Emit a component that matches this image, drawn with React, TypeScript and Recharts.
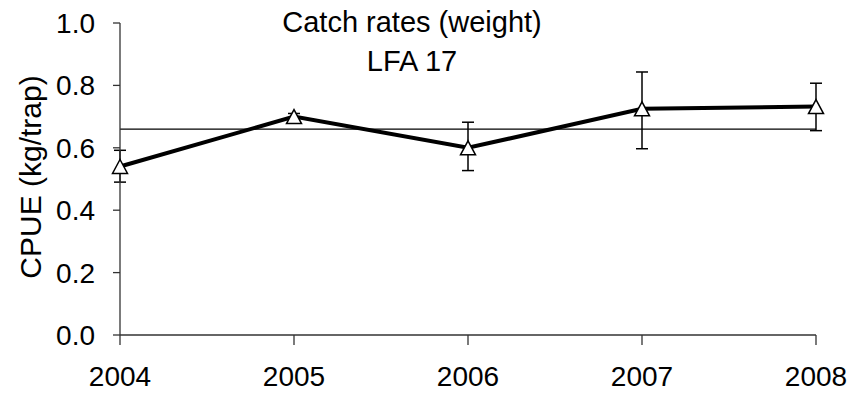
import { ErrorBar, Line, LineChart, ReferenceLine, XAxis, YAxis } from "recharts";

const years = [2004, 2005, 2006, 2007, 2008];
const cpue = [0.54, 0.7, 0.6, 0.725, 0.732];
const lower = [0.49, 0.69, 0.527, 0.597, 0.655];
const upper = [0.592, 0.71, 0.682, 0.843, 0.807];
const longTermMean = 0.66;
const yTicks = [0, 0.2, 0.4, 0.6, 0.8, 1.0];

const FONT = '"Liberation Sans", Arial, sans-serif';
const AXIS = "#333";

const data = years.map((year, i) => ({
  year,
  cpue: cpue[i],
  err: [cpue[i] - lower[i], upper[i] - cpue[i]],
}));

const Triangle = (props: any) => {
  const { cx, cy } = props;
  if (cx == null || cy == null) return null;
  return (
    <polygon
      points={`${cx},${cy - 7} ${cx - 7.5},${cy + 7} ${cx + 7.5},${cy + 7}`}
      fill="#fff"
      stroke="#000"
      strokeWidth={1.5}
    />
  );
};

export default function App() {
  return (
    <div style={{ position: "absolute", left: 0, top: 0, width: 853, height: 393, background: "#fff" }}>
      <LineChart
        width={853}
        height={393}
        data={data}
        margin={{ top: 23, right: 37, bottom: 0, left: 0 }}
      >
        <XAxis
          dataKey="year"
          type="number"
          domain={[2004, 2008]}
          ticks={years}
          height={58}
          stroke={AXIS}
          strokeWidth={1.3}
          tickLine={{ stroke: AXIS, strokeWidth: 1.3 }}
          tickSize={10}
          tickMargin={21}
          tick={{ fill: "#000", fontSize: 28, fontFamily: FONT }}
        />
        <YAxis
          domain={[0, 1]}
          ticks={yTicks}
          width={120}
          stroke={AXIS}
          strokeWidth={1.3}
          tickLine={{ stroke: AXIS, strokeWidth: 1.3 }}
          tickSize={7}
          tickMargin={18}
          tickFormatter={(v) => v.toFixed(1)}
          tick={{ fill: "#000", fontSize: 28, fontFamily: FONT }}
          label={{
            content: () => (
              <text
                x={30}
                y={177}
                transform="rotate(-90 30 177)"
                textAnchor="middle"
                dominantBaseline="central"
                fontSize={30}
                fontFamily={FONT}
                fill="#000"
              >
                CPUE (kg/trap)
              </text>
            ),
          }}
        />
        <ReferenceLine y={longTermMean} stroke="#000" strokeWidth={1.2} />
        <Line
          dataKey="cpue"
          stroke="#000"
          strokeWidth={4}
          dot={<Triangle />}
          activeDot={false}
          isAnimationActive={false}
        >
          <ErrorBar dataKey="err" direction="y" width={6} stroke="#000" strokeWidth={1.5} />
        </Line>
      </LineChart>
      <div
        style={{
          position: "absolute",
          left: 212,
          top: 3,
          width: 400,
          textAlign: "center",
          fontFamily: FONT,
          fontSize: 29,
          lineHeight: "39px",
          color: "#000",
        }}
      >
        Catch rates (weight)
        <br />
        LFA 17
      </div>
    </div>
  );
}
